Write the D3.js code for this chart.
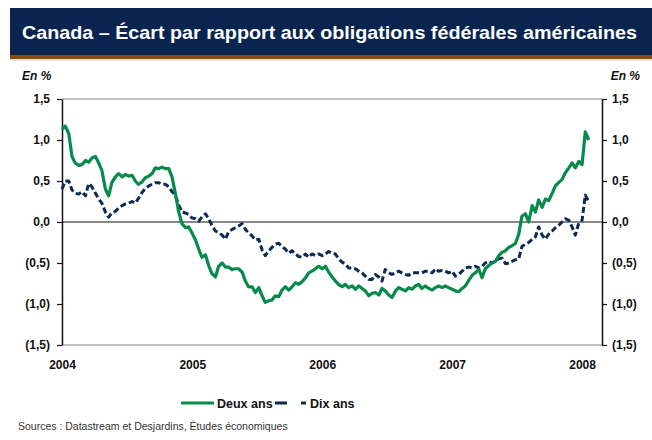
<!DOCTYPE html>
<html>
<head>
<meta charset="utf-8">
<script src="https://cdn.jsdelivr.net/npm/d3@7"></script>
<style>
  body { margin: 0; background: #fff; }
  svg { font-family: "Liberation Sans", Arial, sans-serif; }
</style>
</head>
<body>
<div id="chart"></div>
<script>
'use strict';

// one reading every 1/39 year starting Jan 1, 2004
const startDate = new Date(2004, 0, 1);
const stepDays = 365.25 / 39;

const deuxAns = [
  1.13, 1.17, 1.08, 0.80, 0.72, 0.69, 0.70, 0.75, 0.73, 0.78,
  0.80, 0.72, 0.63, 0.40, 0.32, 0.48, 0.55, 0.59, 0.55, 0.58,
  0.56, 0.57, 0.50, 0.46, 0.49, 0.54, 0.56, 0.59, 0.66, 0.65,
  0.67, 0.65, 0.65, 0.55, 0.36, 0.12, -0.02, -0.07, -0.06, -0.13,
  -0.22, -0.33, -0.43, -0.40, -0.53, -0.63, -0.67, -0.54, -0.50, -0.55,
  -0.55, -0.58, -0.57, -0.57, -0.61, -0.72, -0.79, -0.79, -0.86, -0.80,
  -0.90, -0.98, -0.96, -0.95, -0.90, -0.91, -0.83, -0.79, -0.83, -0.79,
  -0.74, -0.76, -0.73, -0.68, -0.62, -0.60, -0.57, -0.54, -0.57, -0.54,
  -0.61, -0.67, -0.72, -0.76, -0.79, -0.76, -0.80, -0.78, -0.82, -0.78,
  -0.81, -0.84, -0.90, -0.87, -0.86, -0.89, -0.81, -0.84, -0.89, -0.92,
  -0.84, -0.80, -0.82, -0.84, -0.80, -0.82, -0.78, -0.76, -0.81, -0.78,
  -0.81, -0.83, -0.80, -0.78, -0.80, -0.78, -0.80, -0.82, -0.84, -0.85,
  -0.81, -0.78, -0.71, -0.65, -0.62, -0.58, -0.68, -0.57, -0.53, -0.50,
  -0.48, -0.41, -0.37, -0.35, -0.31, -0.29, -0.26, -0.15, 0.07, 0.10,
  0.00, 0.20, 0.12, 0.27, 0.18, 0.28, 0.26, 0.35, 0.44, 0.48,
  0.52, 0.60, 0.66, 0.72, 0.66, 0.74, 0.70, 1.10, 1.00
];

const dixAns = [
  0.40, 0.50, 0.50, 0.39, 0.35, 0.34, 0.37, 0.32, 0.47, 0.43,
  0.35, 0.28, 0.23, 0.12, 0.06, 0.11, 0.13, 0.17, 0.20, 0.22,
  0.23, 0.25, 0.23, 0.29, 0.36, 0.41, 0.44, 0.46, 0.48, 0.48,
  0.46, 0.46, 0.43, 0.37, 0.33, 0.21, 0.12, 0.11, 0.09, 0.05,
  0.04, 0.01, 0.06, 0.10, 0.04, -0.04, -0.11, -0.13, -0.16, -0.21,
  -0.12, -0.09, -0.07, -0.05, -0.02, -0.09, -0.13, -0.17, -0.22, -0.21,
  -0.34, -0.41, -0.35, -0.31, -0.27, -0.26, -0.30, -0.33, -0.38, -0.35,
  -0.39, -0.42, -0.43, -0.39, -0.43, -0.39, -0.41, -0.39, -0.41, -0.39,
  -0.36, -0.38, -0.39, -0.45, -0.49, -0.51, -0.56, -0.56, -0.57, -0.60,
  -0.62, -0.66, -0.70, -0.70, -0.64, -0.67, -0.72, -0.58, -0.62, -0.64,
  -0.62, -0.60, -0.62, -0.64, -0.65, -0.62, -0.62, -0.62, -0.62, -0.60,
  -0.60, -0.62, -0.57, -0.60, -0.59, -0.60, -0.62, -0.60, -0.66, -0.64,
  -0.60, -0.56, -0.55, -0.56, -0.54, -0.56, -0.54, -0.50, -0.48, -0.50,
  -0.48, -0.45, -0.44, -0.51, -0.50, -0.48, -0.46, -0.45, -0.30, -0.27,
  -0.25, -0.21, -0.18, -0.06, -0.16, -0.21, -0.15, -0.11, -0.07, -0.04,
  0.00, 0.04, 0.02, -0.06, -0.16, -0.01, 0.02, 0.33, 0.24
];

const yTicks = [-1.5, -1.0, -0.5, 0, 0.5, 1.0, 1.5];
const yearTicks = [2004, 2005, 2006, 2007, 2008];

const title = 'Canada – Écart par rapport aux obligations fédérales américaines';
const unitLabel = 'En %';
const seriesNames = ['Deux ans', 'Dix ans'];
const sourceText = 'Sources : Datastream et Desjardins, Études économiques';

const width = 652, height = 440;
const plot = { left: 62, right: 602, top: 99, bottom: 345 };
const green = '#078b4c', navy = '#0d2a55';

const svg = d3.select('#chart').append('svg')
  .attr('width', width)
  .attr('height', height);

// header band
svg.append('rect').attr('x', 10).attr('y', 8).attr('width', width - 10).attr('height', 47).attr('fill', '#0a2450');
svg.append('rect').attr('x', 10).attr('y', 55).attr('width', width - 10).attr('height', 4).attr('fill', '#8a4a0b');
svg.append('rect').attr('x', 10).attr('y', 59).attr('width', width - 10).attr('height', 2).attr('fill', '#ece2d2');
svg.append('text')
  .attr('x', 22).attr('y', 39)
  .attr('fill', '#fff')
  .attr('textLength', 615).attr('lengthAdjust', 'spacingAndGlyphs')
  .style('font-size', '19px').style('font-weight', 'bold')
  .text(title);

const x = d3.scaleTime()
  .domain([startDate, new Date(2008, 1, 26)])
  .range([plot.left, plot.right]);
const y = d3.scaleLinear()
  .domain([-1.5, 1.5])
  .range([plot.bottom, plot.top]);

const fmt = v => {
  const s = d3.format('.1f')(Math.abs(v)).replace('.', ',');
  return v < 0 ? `(${s})` : s;
};

const toPoints = arr => arr.map((v, i) => ({
  date: d3.timeDay.offset(startDate, Math.round(i * stepDays)),
  value: v
}));

// frame lines
svg.append('line').attr('x1', plot.left).attr('x2', plot.right).attr('y1', plot.top).attr('y2', plot.top)
  .attr('stroke', '#888').attr('stroke-width', 1);
svg.append('line').attr('x1', plot.left).attr('x2', plot.right).attr('y1', plot.bottom).attr('y2', plot.bottom)
  .attr('stroke', '#888').attr('stroke-width', 1);
svg.append('line').attr('x1', plot.left).attr('x2', plot.right).attr('y1', y(0)).attr('y2', y(0))
  .attr('stroke', '#111').attr('stroke-width', 1);

const styleAxis = g => {
  g.select('.domain').attr('stroke', '#111').attr('stroke-width', 1.5);
  g.selectAll('.tick line').attr('stroke', '#111').attr('stroke-width', 1.2);
  g.selectAll('.tick text')
    .attr('fill', '#111')
    .style('font-size', '12px').style('font-weight', 'bold').style('font-family', '"Liberation Sans", Arial, sans-serif');
};

svg.append('g')
  .attr('transform', `translate(${plot.left},0)`)
  .call(d3.axisLeft(y).tickValues(yTicks).tickFormat(fmt).tickSize(5).tickSizeOuter(0).tickPadding(7))
  .call(styleAxis);

svg.append('g')
  .attr('transform', `translate(${plot.right},0)`)
  .call(d3.axisRight(y).tickValues(yTicks).tickFormat(fmt).tickSize(5).tickSizeOuter(0).tickPadding(5))
  .call(styleAxis);

const xAxis = svg.append('g')
  .attr('transform', `translate(0,${plot.bottom + 7})`)
  .call(d3.axisBottom(x).tickValues(yearTicks.map(yr => new Date(yr, 0, 1))).tickFormat(d3.timeFormat('%Y')).tickSize(0).tickPadding(8))
  .call(styleAxis);
xAxis.select('.domain').remove();

svg.append('text').attr('x', 22).attr('y', 80)
  .style('font-size', '12px').style('font-weight', 'bold').style('font-style', 'italic')
  .attr('fill', '#111').text(unitLabel);
svg.append('text').attr('x', 640).attr('y', 80).attr('text-anchor', 'end')
  .style('font-size', '12px').style('font-weight', 'bold').style('font-style', 'italic')
  .attr('fill', '#111').text(unitLabel);

const line = d3.line()
  .x(d => x(d.date))
  .y(d => y(d.value));

svg.append('path')
  .datum(toPoints(dixAns))
  .attr('fill', 'none')
  .attr('stroke', navy)
  .attr('stroke-width', 3)
  .attr('stroke-dasharray', '6,3')
  .attr('stroke-linejoin', 'round')
  .attr('d', line);

svg.append('path')
  .datum(toPoints(deuxAns))
  .attr('fill', 'none')
  .attr('stroke', green)
  .attr('stroke-width', 3.2)
  .attr('stroke-linejoin', 'round')
  .attr('d', line);

// legend
const legY = 403;
svg.append('line').attr('x1', 181).attr('x2', 214).attr('y1', legY).attr('y2', legY)
  .attr('stroke', green).attr('stroke-width', 3);
svg.append('text').attr('x', 217).attr('y', legY + 4.5)
  .style('font-size', '12.5px').style('font-weight', 'bold').attr('fill', '#111').text(seriesNames[0]);
svg.append('line').attr('x1', 275).attr('x2', 306).attr('y1', legY).attr('y2', legY)
  .attr('stroke', navy).attr('stroke-width', 3).attr('stroke-dasharray', '12,14');
svg.append('text').attr('x', 310).attr('y', legY + 4.5)
  .style('font-size', '12.5px').style('font-weight', 'bold').attr('fill', '#111').text(seriesNames[1]);

svg.append('text').attr('x', 18).attr('y', 430)
  .style('font-size', '10.5px').attr('fill', '#333').text(sourceText);
</script>
</body>
</html>
